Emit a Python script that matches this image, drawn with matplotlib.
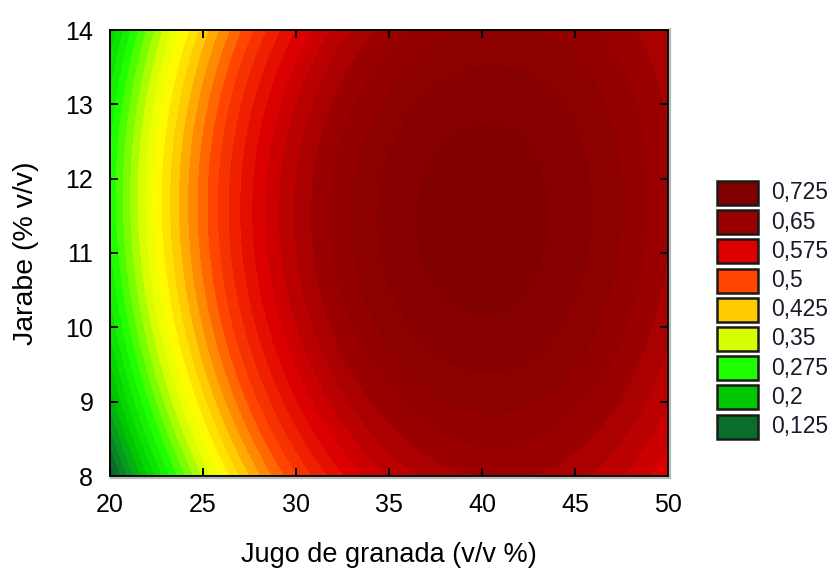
import numpy as np
import matplotlib
matplotlib.use("Agg")
import matplotlib.pyplot as plt
from matplotlib.colors import to_rgb, rgb_to_hsv, hsv_to_rgb
from matplotlib.patches import Rectangle
from matplotlib.lines import Line2D

plt.rcParams["font.family"] = ["Liberation Sans", "DejaVu Sans"]

# Factor ranges
juice_range = [20, 50]      # Jugo de granada (v/v %)
syrup_range = [8, 14]       # Jarabe (% v/v)

# Fitted response surface in coded units u=(x-35)/15, v=(y-11)/3
term_names = ["1", "u", "u^2", "u^3", "v", "u*v", "u^2*v", "v^2", "u*v^2"]
coefficients = [0.7105, 0.153, -0.2505, 0.0368, 0.0226, -0.015, 0.0174, -0.075, 0.03]

# Legend anchor levels and their colours
legend_levels = [0.725, 0.65, 0.575, 0.5, 0.425, 0.35, 0.275, 0.2, 0.125]
legend_colors = ["#800000", "#9a0000", "#dc0000", "#ff4500", "#ffcc00",
                 "#d7ff00", "#1eff00", "#00c800", "#0a6e2a"]

x_ticks = [20, 25, 30, 35, 40, 45, 50]
y_ticks = [8, 9, 10, 11, 12, 13, 14]

sub_bands = 4   # filled bands between neighbouring legend levels


def surface(x, y):
    u = (x - 35.0) / 15.0
    v = (y - 11.0) / 3.0
    basis = [np.ones_like(u), u, u**2, u**3, v, u * v, u**2 * v, v**2, u * v**2]
    return sum(c * b for c, b in zip(coefficients, basis))


def band_color(value):
    lv = np.array(legend_levels[::-1])
    hsv = rgb_to_hsv(np.array([to_rgb(c) for c in legend_colors[::-1]]))
    if value <= lv[0]:
        i = 0
    elif value >= lv[-1]:
        i = len(lv) - 2
    else:
        i = np.searchsorted(lv, value, side="right") - 1
    t = (value - lv[i]) / (lv[i + 1] - lv[i])
    h = hsv[i] * (1 - t) + hsv[i + 1] * t
    h[0] = h[0] % 1.0
    h = np.clip(h, 0, 1)
    return hsv_to_rgb(h)


xs = np.linspace(juice_range[0], juice_range[1], 600)
ys = np.linspace(syrup_range[0], syrup_range[1], 450)
X, Y = np.meshgrid(xs, ys)
Z = surface(X, Y)

step = (legend_levels[0] - legend_levels[1]) / sub_bands
levels = legend_levels[-1] + step * np.arange(-6, 38)
colors = [band_color(lo) for lo in levels[:-1]]

W, H = 835, 575
fig = plt.figure(figsize=(W / 100, H / 100), dpi=100)
ax = fig.add_axes([110 / W, 99 / H, 558 / W, 446 / H])
ax.contourf(X, Y, Z, levels=levels, colors=colors, antialiased=False)

ax.set_xlim(*juice_range)
ax.set_ylim(*syrup_range)
ax.set_xticks(x_ticks)
ax.set_yticks(y_ticks)
ax.tick_params(direction="in", top=True, right=True, length=6, width=1.4,
               labelsize=18, pad=12, colors="black")
for s in ax.spines.values():
    s.set_linewidth(1.4)
    s.set_color("black")

# soft grey shadow along the right and bottom of the frame
x0, x1, y0, y1 = 110 / W, 668 / W, 1 - 476 / H, 1 - 30 / H
sh = 2.0
fig.add_artist(Line2D([x1 + sh / W, x1 + sh / W], [y0 - sh / H, y1 + 1 / H],
                      transform=fig.transFigure, color="#b8b8b8", lw=1.6))
fig.add_artist(Line2D([x0 + 1 / W, x1 + sh / W], [y0 - sh / H, y0 - sh / H],
                      transform=fig.transFigure, color="#b8b8b8", lw=1.6))

ax.set_xlabel("Jugo de granada (v/v %)", fontsize=19.5, labelpad=18)
ax.set_ylabel("Jarabe (% v/v)", fontsize=20.5, labelpad=19)

# Legend: one swatch per anchor level
sw_left, sw_w, sw_h, pitch, top0 = 717, 41, 24, 29.2, 181
for k, (lev, col) in enumerate(zip(legend_levels, legend_colors)):
    top = top0 + k * pitch
    fig.patches.append(Rectangle((sw_left / W, 1 - (top + sw_h) / H), sw_w / W, sw_h / H,
                                 transform=fig.transFigure, facecolor=col,
                                 edgecolor="#1a1a1a", linewidth=1.8))
    fig.text(771 / W, 1 - (top + sw_h / 2) / H, f"{lev:g}".replace(".", ","),
             fontsize=16.5, va="center", ha="left", color="#1a1a2a")

fig.savefig("out.png", dpi=100)
